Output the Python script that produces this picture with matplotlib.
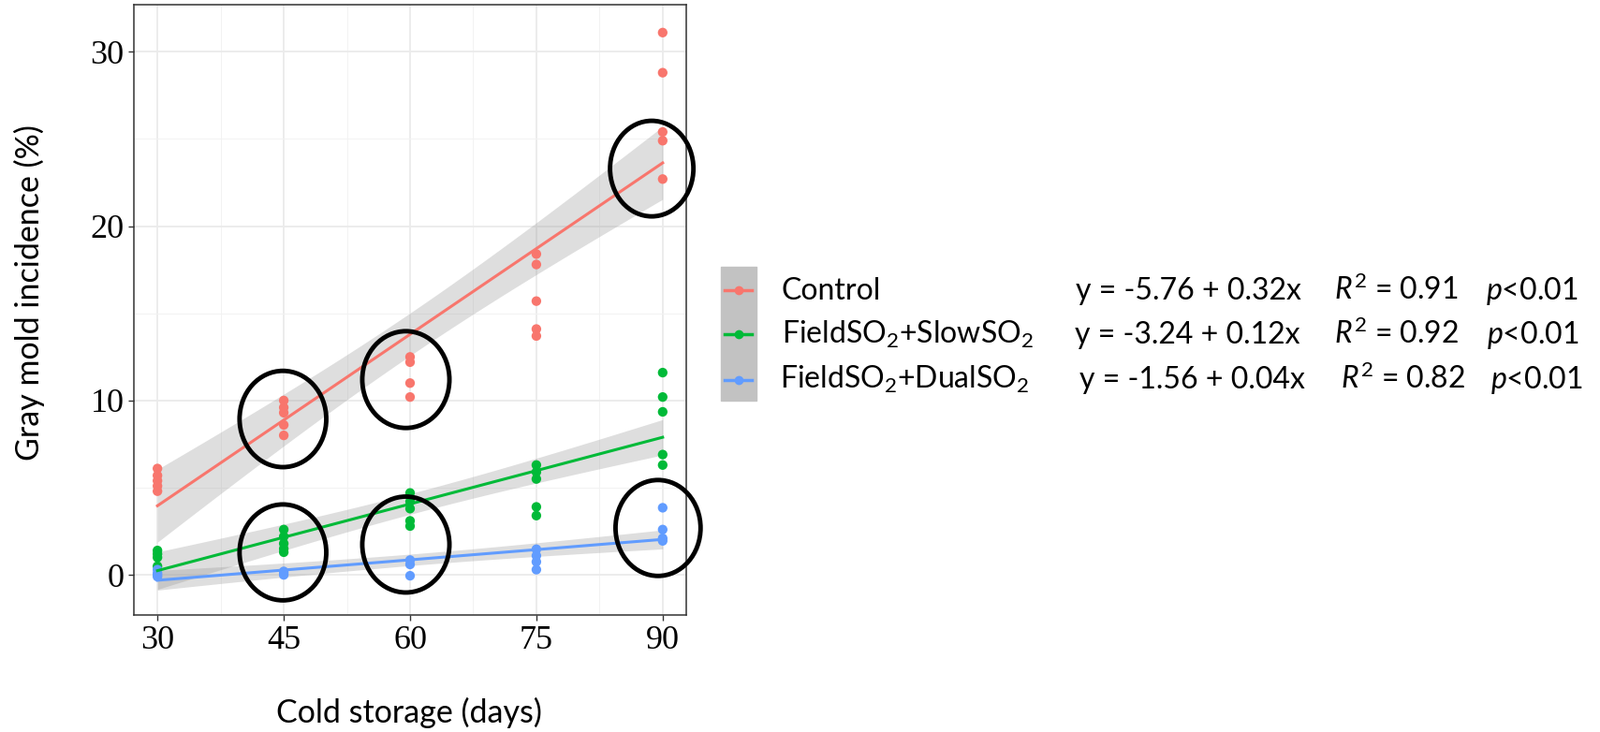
import numpy as np
import matplotlib
matplotlib.use("Agg")
import matplotlib.pyplot as plt
from matplotlib.patches import Ellipse, Rectangle
from matplotlib.lines import Line2D

plt.rcParams['mathtext.fontset'] = 'custom'
plt.rcParams['mathtext.rm'] = 'Lato'
plt.rcParams['mathtext.it'] = 'Lato:italic'

# =========================
# Data
# =========================
ctrl_x = [30, 30, 30, 30, 30, 45, 45, 45, 45, 45, 60, 60, 60, 60,
          75, 75, 75, 75, 75, 90, 90, 90, 90, 90]
ctrl_y = [6.1, 5.7, 5.4, 5.1, 4.8, 10.0, 9.6, 9.3, 8.6, 8.0, 12.5, 12.2, 11.0, 10.2,
          18.4, 17.8, 15.7, 14.1, 13.7, 31.1, 28.8, 25.4, 24.9, 22.7]

slow_x = [30, 30, 30, 30, 45, 45, 45, 45, 45, 60, 60, 60, 60, 60,
          75, 75, 75, 75, 75, 90, 90, 90, 90, 90]
slow_y = [1.4, 1.2, 1.0, 0.5, 2.6, 2.2, 1.8, 1.5, 1.3, 4.7, 4.2, 3.8, 3.1, 2.8,
          6.3, 5.9, 5.5, 3.9, 3.4, 11.6, 10.2, 9.35, 6.9, 6.3]

dual_x = [30, 30, 30, 30, 45, 45, 45, 60, 60, 60, 75, 75, 75, 75, 90, 90, 90, 90]
dual_y = [0.3, 0.1, 0.0, -0.1, 0.2, 0.1, 0.0, 0.85, 0.6, -0.05,
          1.47, 1.1, 0.75, 0.3, 3.85, 2.6, 2.1, 1.95]

labels = ["Control", "FieldSO$_2$+SlowSO$_2$", "FieldSO$_2$+DualSO$_2$"]
equations = ["y = -5.76 + 0.32x", "y = -3.24 + 0.12x", "y = -1.56 + 0.04x"]
r2_values = ["0.91", "0.92", "0.82"]
p_values = ["<0.01", "<0.01", "<0.01"]
colors = ["#F8766D", "#00BA38", "#619CFF"]

# highlighted groups (day, % centre, width in days, height in %)
circles = [(44.9, 8.94, 10.3, 5.52), (59.5, 11.2, 10.35, 5.55), (88.7, 23.3, 9.9, 5.48),
           (44.9, 1.29, 10.3, 5.5), (59.5, 1.74, 10.35, 5.5), (89.45, 2.69, 10.1, 5.5)]

groups = [(ctrl_x, ctrl_y), (slow_x, slow_y), (dual_x, dual_y)]

# =========================
# Figure
# =========================
W, H = 1709, 782
fig = plt.figure(figsize=(W / 100, H / 100), dpi=100)
ax = fig.add_axes([143 / W, 1 - 657 / H, 590 / W, 652 / H])

ax.set_xlim(27.2, 92.8)
ax.set_ylim(-2.3, 32.7)
ax.set_xticks([30, 45, 60, 75, 90])
ax.set_yticks([0, 10, 20, 30])
ax.set_xticks([37.5, 52.5, 67.5, 82.5], minor=True)
ax.set_yticks([5, 15, 25], minor=True)
ax.grid(which='major', color='#EBEBEB', linewidth=1.3, zorder=0)
ax.grid(which='minor', color='#F2F2F2', linewidth=0.7, zorder=0)
ax.set_axisbelow(True)
for s in ax.spines.values():
    s.set_color('#333333')
    s.set_linewidth(1.1)
ax.tick_params(which='major', length=4.6, width=1, color='#333333', pad=3,
               labelsize=26)
ax.tick_params(which='minor', length=0)
for t in ax.get_xticklabels() + ax.get_yticklabels():
    t.set_fontfamily('Liberation Serif')

# regression with 95% band (like geom_smooth(method="lm"))
t95 = 2.07
for (gx, gy), c in zip(groups, colors):
    x = np.array(gx, dtype=float)
    y = np.array(gy, dtype=float)
    b, a = np.polyfit(x, y, 1)
    n = len(x)
    res = y - (a + b * x)
    s = np.sqrt(np.sum(res ** 2) / (n - 2))
    xs = np.linspace(x.min(), x.max(), 100)
    se = s * np.sqrt(1 / n + (xs - x.mean()) ** 2 / np.sum((x - x.mean()) ** 2))
    fit = a + b * xs
    ax.fill_between(xs, fit - t95 * se, fit + t95 * se, color='#999999',
                    alpha=0.32, linewidth=0, zorder=2)
    ax.scatter(x, y, s=55, color=c, edgecolors='none', zorder=3)
    ax.plot(xs, fit, color=c, linewidth=2.2, zorder=4)

for cx, cy, w, h in circles:
    ax.add_patch(Ellipse((cx, cy), w, h, fill=False, edgecolor='black',
                         linewidth=3.5, zorder=6, clip_on=False))

# axis titles
fig.text(31 / W, 1 - 313 / H, "Gray mold incidence (%)", rotation=90,
         ha='center', va='center', fontsize=24.5, family='Lato')
fig.text(437 / W, 1 - 772 / H, "Cold storage (days)", ha='center',
         va='baseline', fontsize=24.5, family='Lato')

# legend drawn by hand
fig.patches.append(Rectangle((770 / W, 1 - 428 / H), 38 / W, 143 / H,
                             transform=fig.transFigure, color='#C2C2C2',
                             zorder=1))
key_y = [310, 357, 406]
base_y = [320, 367, 415]
lab_x = [835, 835, 833]
eq_x = [1149, 1148, 1153]
r_x = [1425, 1425, 1432]
p_x = [1587, 1588, 1592]
for i in range(3):
    yk = 1 - key_y[i] / H
    fig.lines.append(Line2D([774 / W, 803 / W], [yk, yk], transform=fig.transFigure,
                            color=colors[i], linewidth=2.5, zorder=2))
    fig.lines.append(Line2D([788.5 / W], [yk], transform=fig.transFigure,
                            marker='o', markersize=7, color=colors[i],
                            markeredgewidth=0, zorder=3))
    yb = 1 - base_y[i] / H
    fig.text(lab_x[i] / W, yb, labels[i], fontsize=23, family='Lato', va='baseline')
    fig.text(eq_x[i] / W, yb, equations[i], fontsize=23, family='Lato', va='baseline')
    fig.text(r_x[i] / W, yb, r"$\mathit{R^2}$ = " + r2_values[i], fontsize=23,
             family='Lato', va='baseline')
    fig.text(p_x[i] / W, yb, r"$\mathit{p}$" + p_values[i], fontsize=23,
             family='Lato', va='baseline')

fig.savefig("out.png", dpi=100)
